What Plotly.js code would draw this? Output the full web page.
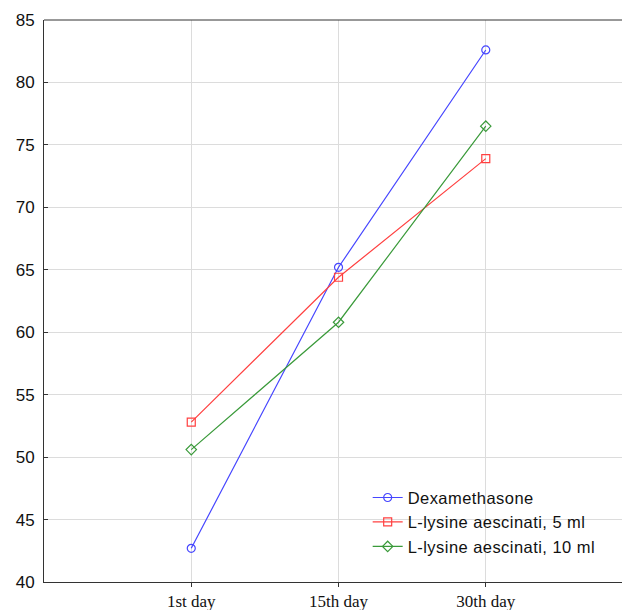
<!DOCTYPE html>
<html>
<head>
<meta charset="utf-8">
<script src="https://cdn.plot.ly/plotly-3.0.1.min.js"></script>
<style>html,body{margin:0;padding:0;overflow:hidden;background:#fff;}
.legendtext{letter-spacing:0.45px;}</style>
</head>
<body>
<div id="chart" style="width:622px;height:610px;"></div>
<script>
var categories = ["1st day", "15th day", "30th day"];
var dexamethasone = [42.7, 65.2, 82.6];
var lysine5 = [52.8, 64.4, 73.9];
var lysine10 = [50.6, 60.8, 76.5];
var seriesNames = ["Dexamethasone", "L-lysine aescinati, 5 ml", "L-lysine aescinati, 10 ml"];
var yTicks = [40, 45, 50, 55, 60, 65, 70, 75, 80, 85];

function mk(y, name, color, symbol) {
  return {
    x: categories, y: y, name: name, type: "scatter", mode: "lines+markers",
    line: {color: color, width: 1.2},
    marker: {symbol: symbol, size: 8, color: color, line: {color: color, width: 1.2}}
  };
}
var data = [
  mk(dexamethasone, seriesNames[0], "#4646ff", "circle-open"),
  mk(lysine5, seriesNames[1], "#ff4040", "square-open"),
  mk(lysine10, seriesNames[2], "#3a9a3a", "diamond-open")
];
var layout = {
  width: 622, height: 610,
  margin: {l: 44, r: 0, t: 20, b: 28},
  paper_bgcolor: "#fff", plot_bgcolor: "#fff",
  showlegend: true,
  legend: {x: 0.56, y: 0.181, xanchor: "left", yanchor: "top", bgcolor: "rgba(0,0,0,0)",
           font: {family: "Liberation Sans, Arial, sans-serif", size: 16.5, color: "#111"},
           tracegroupgap: 0, itemwidth: 30},
  xaxis: {
    type: "category", range: [-1, 2.925],
    showgrid: true, gridcolor: "#dcdcdc", gridwidth: 1,
    showline: true, linecolor: "#333", linewidth: 1, mirror: false,
    ticks: "outside", ticklen: 4, tickcolor: "#333",
    tickfont: {family: "Liberation Serif, Times New Roman, serif", size: 17, color: "#111"},
    zeroline: false
  },
  yaxis: {
    range: [40, 85], tickvals: yTicks,
    showgrid: true, gridcolor: "#dcdcdc", gridwidth: 1,
    showline: true, linecolor: "#333", linewidth: 1, mirror: false,
    ticks: "inside", ticklen: 4, tickcolor: "#333",
    tickfont: {family: "Liberation Sans, Arial, sans-serif", size: 17, color: "#111"},
    ticklabelstandoff: 5,
    zeroline: false
  },
  shapes: [{type: "line", xref: "paper", yref: "paper", x0: 0, x1: 1, y0: 1, y1: 1,
            line: {color: "#333", width: 1}}]
};
Plotly.newPlot("chart", data, layout, {displayModeBar: false, staticPlot: true});
</script>
</body>
</html>
